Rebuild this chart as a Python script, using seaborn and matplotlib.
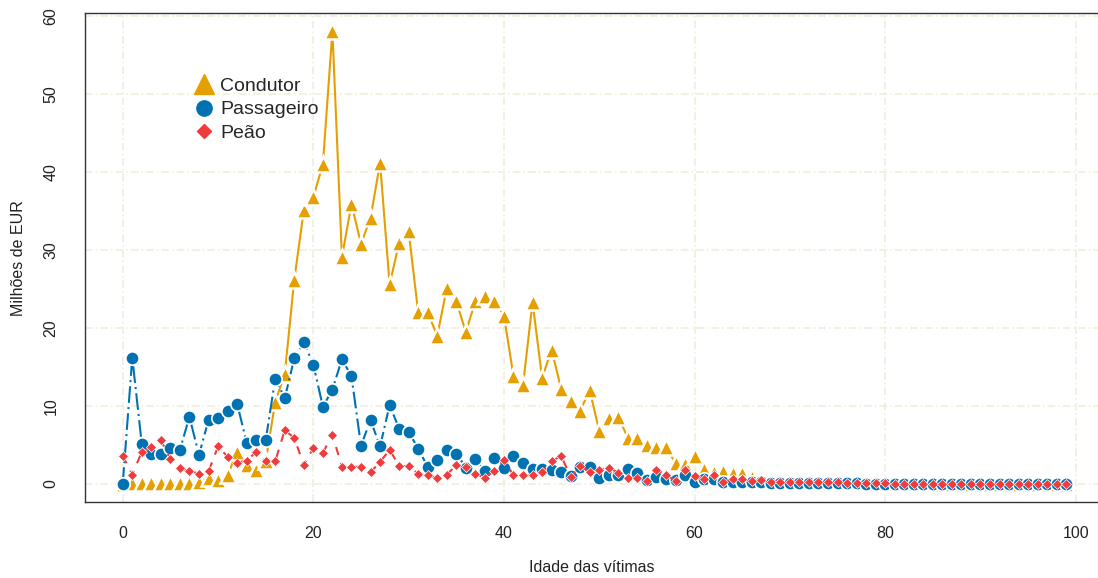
import numpy as np
import pandas as pd
import matplotlib
matplotlib.use("Agg")
import matplotlib.pyplot as plt
from matplotlib.lines import Line2D
import seaborn as sns

sns.set_style("white")
plt.rcParams["font.family"] = ["Liberation Sans", "DejaVu Sans"]

# DATA (milhoes de EUR por idade da vitima, 0..99)
idade = list(range(100))
condutor = [
    0.0, 0.1, 0.1, 0.1, 0.1, 0.1, 0.1, 0.1, 0.2, 0.8,
    0.5, 1.1, 4.1, 2.4, 1.8, 2.9, 10.5, 14.1, 26.2, 35.1,
    36.8, 41.0, 58.1, 29.1, 35.9, 30.8, 34.1, 41.2, 25.6, 30.9,
    32.4, 22.0, 22.0, 19.0, 25.1, 23.4, 19.5, 23.4, 24.1, 23.5,
    21.6, 13.8, 12.7, 23.3, 13.6, 17.2, 12.2, 10.6, 9.4, 12.0,
    6.8, 8.5, 8.6, 5.9, 5.9, 5.0, 4.7, 4.7, 2.7, 2.6,
    3.6, 1.9, 1.5, 1.7, 1.4, 1.4, 0.9, 0.6, 0.5, 0.5,
    0.4, 0.4, 0.4, 0.3, 0.3, 0.3, 0.2, 0.2, 0.2, 0.1,
    0.1, 0.1, 0.1, 0.1, 0.1, 0.1, 0.0, 0.0, 0.0, 0.0,
    0.0, 0.0, 0.0, 0.0, 0.0, 0.0, 0.0, 0.0, 0.0, 0.0,
]
passageiro = [
    0.0, 16.2, 5.1, 3.9, 3.9, 4.6, 4.4, 8.6, 3.7, 8.2,
    8.5, 9.3, 10.3, 5.3, 5.6, 5.6, 13.5, 11.0, 16.1, 18.2,
    15.3, 9.9, 12.1, 16.0, 13.8, 4.9, 8.2, 4.8, 10.1, 7.1,
    6.7, 4.5, 2.2, 3.1, 4.4, 3.9, 2.1, 3.2, 1.6, 3.3,
    2.0, 3.6, 2.7, 1.9, 1.9, 1.8, 1.5, 1.0, 2.2, 2.2,
    0.8, 1.2, 1.2, 1.9, 1.4, 0.5, 0.9, 0.6, 0.5, 1.1,
    0.3, 0.6, 0.6, 0.3, 0.3, 0.3, 0.2, 0.2, 0.1, 0.1,
    0.1, 0.1, 0.1, 0.1, 0.1, 0.1, 0.1, 0.1, 0.0, 0.0,
    0.0, 0.0, 0.0, 0.0, 0.0, 0.0, 0.0, 0.0, 0.0, 0.0,
    0.0, 0.0, 0.0, 0.0, 0.0, 0.0, 0.0, 0.0, 0.0, 0.0,
]
peao = [
    3.6, 1.2, 4.1, 4.7, 5.6, 3.2, 2.0, 1.7, 1.3, 1.6,
    4.8, 3.5, 2.7, 3.0, 4.1, 2.9, 2.9, 6.9, 5.9, 2.4,
    4.6, 4.0, 6.3, 2.2, 2.2, 2.2, 1.5, 2.8, 4.4, 2.3,
    2.3, 1.3, 1.1, 0.8, 1.2, 2.4, 2.2, 1.3, 0.8, 1.7,
    3.1, 1.1, 1.1, 1.1, 1.5, 2.9, 3.6, 0.9, 2.3, 1.5,
    1.8, 2.1, 1.4, 0.8, 0.8, 0.4, 1.8, 1.2, 0.4, 1.8,
    1.0, 0.6, 1.1, 0.3, 0.6, 0.6, 0.4, 0.5, 0.3, 0.3,
    0.2, 0.2, 0.2, 0.2, 0.2, 0.2, 0.1, 0.1, 0.1, 0.1,
    0.1, 0.0, 0.0, 0.0, 0.0, 0.0, 0.0, 0.0, 0.0, 0.0,
    0.0, 0.0, 0.0, 0.0, 0.0, 0.0, 0.0, 0.0, 0.0, 0.0,
]
series = ["Condutor", "Passageiro", "Peão"]
x_ticks = [0, 20, 40, 60, 80, 100]
y_ticks = [0, 10, 20, 30, 40, 50, 60]

# ESTILO
cores = {"Condutor": "#E69F00", "Passageiro": "#0072B2", "Peão": "#EF3B3C"}
marcas = {"Condutor": "^", "Passageiro": "o", "Peão": "D"}
tamanhos = {"Condutor": 11.5, "Passageiro": 9.6, "Peão": 4.8}
bordas = {"Condutor": 1.8, "Passageiro": 1.2, "Peão": 0.5}
tracos = {"Condutor": None, "Passageiro": (8, 2, 1, 2), "Peão": (4, 4)}

df = pd.DataFrame({"idade": idade, "Condutor": condutor,
                   "Passageiro": passageiro, "Peão": peao})
long = df.melt(id_vars="idade", var_name="tipo", value_name="valor")

W, H = 1098, 578
fig = plt.figure(figsize=(W / 100, H / 100), dpi=100)
ax = fig.add_axes([85 / W, (H - 502) / H, (1104 - 85) / W, (502 - 13) / H])

for s in series:
    sub = long[long["tipo"] == s]
    kw = dict(x="idade", y="valor", data=sub, ax=ax, color=cores[s],
              marker=marcas[s], markersize=tamanhos[s],
              markeredgecolor="white", markeredgewidth=bordas[s],
              linewidth=1.5, legend=False, zorder=3)
    if tracos[s] is not None:
        kw["dashes"] = tracos[s]
    sns.lineplot(**kw)

ax.set_xlim(-3.96, 102.96)
ax.set_ylim(-2.32, 60.4)
ax.set_xticks(x_ticks)
ax.set_yticks(y_ticks)
ax.grid(True, color="#F1ECD8", linewidth=1.1, dashes=(5, 2, 1, 2))
ax.set_axisbelow(True)

for side in ["left", "bottom", "top"]:
    ax.spines[side].set_color("#333333")
    ax.spines[side].set_linewidth(1.0)
ax.spines["right"].set_visible(False)

ax.tick_params(axis="both", direction="out", length=7, width=1.0,
               color="#666666", labelsize=11.5, labelcolor="#222222")
ax.tick_params(axis="x", pad=10)
ax.tick_params(axis="y", pad=12)
for lbl in ax.get_yticklabels():
    lbl.set_rotation(90)
    lbl.set_va("center")

ax.set_xlabel("")
ax.set_ylabel("")
fig.text(592 / W, 1 - 568 / H, "Idade das vítimas", ha="center", va="center",
         fontsize=11.5, color="#222222")
fig.text(19 / W, 1 - 258 / H, "Milhões de EUR", ha="center", va="center",
         rotation=90, fontsize=11.5, color="#222222")

handles = [Line2D([], [], linestyle="none", marker=marcas[s], color=cores[s],
                  markersize={"Condutor": 14, "Passageiro": 11, "Peão": 7.5}[s])
           for s in series]
ax.legend(handles, series, loc="upper left", bbox_to_anchor=(191 / W, 1 - 77 / H),
          bbox_transform=fig.transFigure, frameon=False, fontsize=14,
          handletextpad=0.2, labelspacing=0.32, handlelength=1.3,
          borderpad=0, borderaxespad=0)

fig.savefig("out.png", dpi=100)
